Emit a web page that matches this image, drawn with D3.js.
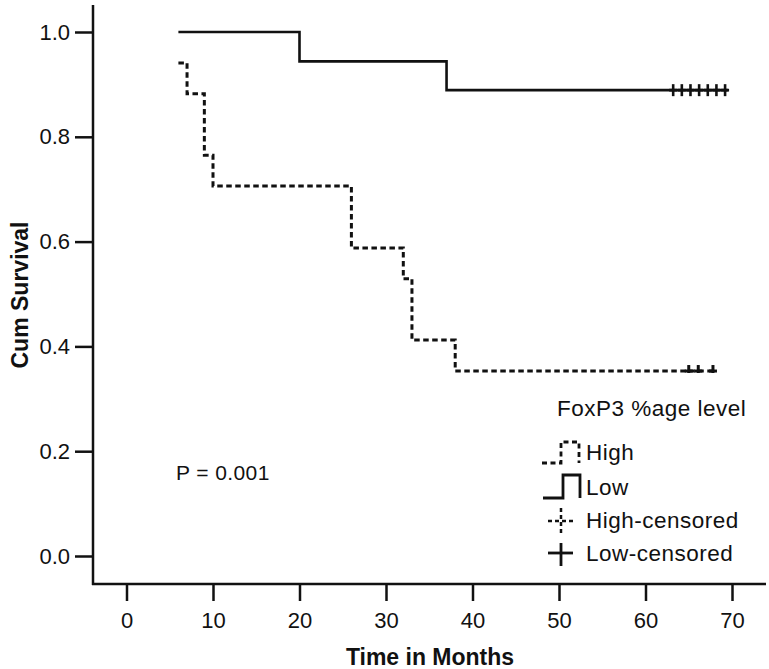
<!DOCTYPE html>
<html><head><meta charset="utf-8">
<script src="https://cdn.jsdelivr.net/npm/d3@7"></script>
<style>body{margin:0;background:#fff}svg{display:block}text{font-family:"Liberation Sans",Arial,sans-serif;fill:#111}</style>
</head><body><svg id="c" width="769" height="669"></svg>
<script>
// Data
const xTicks = [0,10,20,30,40,50,60,70];
const yTicks = [0.0,0.2,0.4,0.6,0.8,1.0];
const highTimes = [6,7,9,10,26,32,33,38,68];
const highSurv  = [0.941,0.882,0.765,0.706,0.588,0.529,0.412,0.353,0.353];
const highCensor = [65,66.1,67.8];
const lowTimes = [6,20,37,69.5];
const lowSurv  = [1.0,0.944,0.889,0.889];
const lowCensor = [63.2,64.2,65.2,66.2,67.2,68.2,69.2];

const svg = d3.select("#c");
const x = d3.scaleLinear().domain([0,70]).range([126.5,732]);
const y = d3.scaleLinear().domain([0,1]).range([556,32]);
const axisX0 = 93, axisY0 = 584;

// axes lines
svg.append("line").attr("x1",axisX0).attr("x2",axisX0).attr("y1",5).attr("y2",axisY0+1).attr("stroke","#111").attr("stroke-width",2.5);
svg.append("line").attr("x1",axisX0-1).attr("x2",766).attr("y1",axisY0).attr("y2",axisY0).attr("stroke","#111").attr("stroke-width",2.5);

// x axis
const gx = svg.append("g").attr("transform",`translate(0,${axisY0})`)
  .call(d3.axisBottom(x).tickValues(xTicks).tickSize(17).tickPadding(11).tickFormat(d3.format("d")));
gx.select(".domain").remove();
gx.selectAll("line").attr("stroke","#111").attr("stroke-width",2.5);
gx.selectAll("text").attr("font-size",22).attr("fill","#1a1a1a").attr("font-family","Liberation Sans, Arial, sans-serif");

// y axis
const gy = svg.append("g").attr("transform",`translate(${axisX0},0)`)
  .call(d3.axisLeft(y).tickValues(yTicks).tickSize(18).tickPadding(5).tickFormat(d3.format(".1f")));
gy.select(".domain").remove();
gy.selectAll("line").attr("stroke","#111").attr("stroke-width",2.5);
gy.selectAll("text").attr("font-size",22).attr("fill","#1a1a1a").attr("font-family","Liberation Sans, Arial, sans-serif");

// titles
svg.append("text").attr("x",430).attr("y",665).attr("text-anchor","middle")
  .attr("font-size",23).attr("font-weight","bold")
  .text("Time in Months");
svg.append("text").attr("transform","translate(28,295) rotate(-90)").attr("text-anchor","middle")
  .attr("font-size",23).attr("font-weight","bold")
  .text("Cum Survival");

// curves
const step = d3.line().x(d=>x(d[0])).y(d=>y(d[1])).curve(d3.curveStepAfter);
const highData = highTimes.map((t,i)=>[t,highSurv[i]]);
const lowData = lowTimes.map((t,i)=>[t,lowSurv[i]]);
svg.append("path").attr("d",step(lowData)).attr("fill","none").attr("stroke","#111").attr("stroke-width",2.6);
svg.append("path").attr("d",step(highData)).attr("fill","none").attr("stroke","#111").attr("stroke-width",3).attr("stroke-dasharray","5.5,3.5");

// censor marks
lowCensor.forEach(t=>{
  const cx=x(t), cy=y(0.889);
  svg.append("line").attr("x1",cx).attr("x2",cx).attr("y1",cy-6).attr("y2",cy+6).attr("stroke","#111").attr("stroke-width",2.6);
  svg.append("line").attr("x1",cx-4).attr("x2",cx+4).attr("y1",cy).attr("y2",cy).attr("stroke","#111").attr("stroke-width",2.8);
});
highCensor.forEach(t=>{
  const cx=x(t), cy=y(0.353);
  svg.append("line").attr("x1",cx).attr("x2",cx).attr("y1",cy-6).attr("y2",cy+2).attr("stroke","#111").attr("stroke-width",3);
  svg.append("line").attr("x1",cx-4).attr("x2",cx+4).attr("y1",cy).attr("y2",cy).attr("stroke","#111").attr("stroke-width",3);
});

// p-value
svg.append("text").attr("x",176).attr("y",480).attr("font-size",21).attr("letter-spacing",0.4).text("P = 0.001");

// legend
const lg = svg.append("g").attr("letter-spacing",0.5);
lg.append("text").attr("x",557).attr("y",416).attr("font-size",22.5).text("FoxP3 %age level");
lg.append("path").attr("d","M542,463 H561 V442 H579 V463").attr("fill","none").attr("stroke","#111").attr("stroke-width",2.8).attr("stroke-dasharray","5,3.5");
lg.append("text").attr("x",586).attr("y",460).attr("font-size",22.5).text("High");
lg.append("path").attr("d","M543,498 H563 V475 H580 V498").attr("fill","none").attr("stroke","#111").attr("stroke-width",2.8);
lg.append("text").attr("x",586).attr("y",495).attr("font-size",22.5).text("Low");
lg.append("line").attr("x1",548).attr("x2",573).attr("y1",521).attr("y2",521).attr("stroke","#111").attr("stroke-width",2.5).attr("stroke-dasharray","4,3");
lg.append("line").attr("x1",561).attr("x2",561).attr("y1",508).attr("y2",533).attr("stroke","#111").attr("stroke-width",2.5).attr("stroke-dasharray","4,3");
lg.append("text").attr("x",586).attr("y",528).attr("font-size",22.5).text("High-censored");
lg.append("line").attr("x1",548).attr("x2",573).attr("y1",553).attr("y2",553).attr("stroke","#111").attr("stroke-width",2.8);
lg.append("line").attr("x1",561).attr("x2",561).attr("y1",543).attr("y2",566).attr("stroke","#111").attr("stroke-width",2.8);
lg.append("text").attr("x",586).attr("y",561).attr("font-size",22.5).text("Low-censored");
</script></body></html>
